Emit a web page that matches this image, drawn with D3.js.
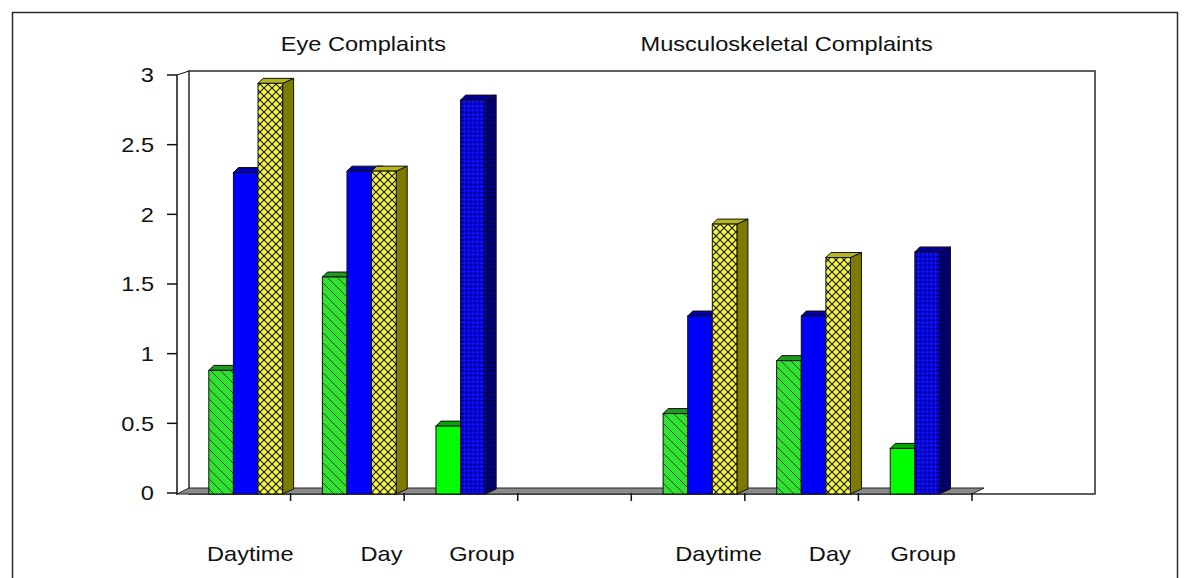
<!DOCTYPE html>
<html>
<head>
<meta charset="utf-8">
<script src="https://cdn.jsdelivr.net/npm/d3@7"></script>
<style>
  body { margin: 0; background: #fff; }
  svg { display: block; }
  text { font-family: "Liberation Sans", Arial, sans-serif; fill: #111; }
</style>
</head>
<body>
<svg id="chart" width="1190" height="578"></svg>
<script>
// ---- data ----
const panels = ["Eye Complaints", "Musculoskeletal Complaints"];
const categories = ["Daytime", "Day", "Group", "", "Daytime", "Day", "Group"];
const seriesKeys = ["green", "blue", "yellow"];
const greenValues  = [0.88, 1.55, 0.48, null, 0.57, 0.95, 0.32];
const blueValues   = [2.30, 2.31, 2.82, null, 1.27, 1.27, 1.73];
const yellowValues = [2.94, 2.31, null, null, 1.93, 1.69, null];
const yTicks = [0, 0.5, 1, 1.5, 2, 2.5, 3];
const yTickLabels = ["0", "0.5", "1", "1.5", "2", "2.5", "3"];

// ---- layout ----
const svg = d3.select("#chart");
const axisX = 177, floorRight = 972;
const depthX = 11, depthY = 5, topSlant = 5;
const wall = { x0: 189, y0: 71, x1: 1095, y1: 494 };
const textStretch = 1.18;      // the chart's lettering runs a little wide
const labelNudge = [30, 70, 45, 0, 44, 64, 32];

const y = d3.scaleLinear().domain([0, 3]).range([493, 75]);
const x = d3.scaleBand().domain(d3.range(categories.length)).range([axisX, floorRight]).padding(0);
const bw = x.bandwidth();
const xs = d3.scaleBand().domain(seriesKeys).range([bw * 0.28, bw * 0.93]).padding(0);

// place a text at (px, py) with the horizontal stretch applied
function placeText(sel, px, py) {
  sel.attr("x", 0).attr("y", 0)
     .attr("transform", (d, i) => `translate(${px(d, i)},${py(d, i)}) scale(${textStretch},1)`);
}

// ---- fill patterns ----
const defs = svg.append("defs");
const hatch = defs.append("pattern").attr("id", "hatchGreen")
  .attr("patternUnits", "userSpaceOnUse").attr("width", 10).attr("height", 10);
hatch.append("rect").attr("width", 10).attr("height", 10).attr("fill", "#2fe22f");
hatch.append("path").attr("d", "M0,0L10,10M-3,7L3,13M7,-3L13,3")
  .attr("stroke", "#1b4a1b").attr("stroke-width", 1);

const cross = defs.append("pattern").attr("id", "crossYellow")
  .attr("patternUnits", "userSpaceOnUse").attr("width", 8).attr("height", 8);
cross.append("rect").attr("width", 8).attr("height", 8).attr("fill", "#f6f63a");
cross.append("path").attr("d", "M0,0L8,8M0,8L8,0")
  .attr("stroke", "#1a1a1a").attr("stroke-width", 1.2);

const checker = defs.append("pattern").attr("id", "checkBlue")
  .attr("patternUnits", "userSpaceOnUse").attr("width", 6).attr("height", 6)
  .attr("patternTransform", "rotate(45)");
checker.append("rect").attr("width", 6).attr("height", 6).attr("fill", "#1010ff");
checker.append("rect").attr("width", 3).attr("height", 3).attr("fill", "#0000a8");
checker.append("rect").attr("x", 3).attr("y", 3).attr("width", 3).attr("height", 3).attr("fill", "#0000a8");

const checkerDark = defs.append("pattern").attr("id", "checkBlueDark")
  .attr("patternUnits", "userSpaceOnUse").attr("width", 6).attr("height", 6)
  .attr("patternTransform", "rotate(45)");
checkerDark.append("rect").attr("width", 6).attr("height", 6).attr("fill", "#00008a");
checkerDark.append("rect").attr("width", 3).attr("height", 3).attr("fill", "#00004e");
checkerDark.append("rect").attr("x", 3).attr("y", 3).attr("width", 3).attr("height", 3).attr("fill", "#00004e");

// face fills: regular categories and the "Group" category
const styles = {
  green:  { front: "url(#hatchGreen)", top: "#1e9a1e", side: "#117a11" },
  blue:   { front: "#0000ff", top: "#0000a8", side: "#00007c" },
  yellow: { front: "url(#crossYellow)", top: "#b5b51c", side: "#7d7a00" }
};
const groupStyles = {
  green:  { front: "#00ff00", top: "#00a800", side: "#008000" },
  blue:   { front: "url(#checkBlue)", top: "#0000a0", side: "url(#checkBlueDark)" },
  yellow: { front: "url(#crossYellow)", top: "#b5b51c", side: "#7d7a00" }
};

// ---- outer frame ----
svg.append("rect").attr("x", 12.5).attr("y", 12.5).attr("width", 1165).attr("height", 620)
  .attr("fill", "#fff").attr("stroke", "#2a2a2a").attr("stroke-width", 1.5);

// ---- back wall ----
svg.append("rect").attr("x", wall.x0).attr("y", wall.y0)
  .attr("width", wall.x1 - wall.x0).attr("height", wall.y1 - wall.y0)
  .attr("fill", "#fff").attr("stroke", "#2a2a2a").attr("stroke-width", 1.5);

// ---- floor ----
const y0 = y(0) + 1;
svg.append("polygon")
  .attr("points", [[axisX, y0], [floorRight, y0], [floorRight + depthX + 1, y0 - depthY - 1], [axisX + depthX + 1, y0 - depthY - 1]].join(" "))
  .attr("fill", "#8a8a8a").attr("stroke", "#222").attr("stroke-width", 1);

// ---- y axis ----
const yAxis = svg.append("g");
yAxis.append("line").attr("x1", axisX).attr("x2", axisX).attr("y1", y(3)).attr("y2", y0 + 1)
  .attr("stroke", "#111").attr("stroke-width", 1.5);
yAxis.append("line").attr("x1", axisX).attr("y1", y(3)).attr("x2", wall.x0).attr("y2", wall.y0)
  .attr("stroke", "#111").attr("stroke-width", 1);
yAxis.selectAll("line.tick").data(yTicks).join("line").attr("class", "tick")
  .attr("x1", axisX - 10).attr("x2", axisX).attr("y1", d => y(d)).attr("y2", d => y(d))
  .attr("stroke", "#111").attr("stroke-width", 1.5);
yAxis.selectAll("text").data(yTicks).join("text")
  .attr("dy", "0.36em").attr("text-anchor", "end").attr("font-size", 20)
  .text((d, i) => yTickLabels[i])
  .call(placeText, () => 154, d => y(d));

// ---- x ticks ----
const boundaries = d3.range(1, categories.length + 1).map(i => i < categories.length ? x(i) : floorRight);
svg.append("g").selectAll("line").data(boundaries).join("line")
  .attr("x1", d => d).attr("x2", d => d).attr("y1", y0 - 1).attr("y2", y0 + 7)
  .attr("stroke", "#111").attr("stroke-width", 1.5);

// ---- bars ----
const valuesBySeries = { green: greenValues, blue: blueValues, yellow: yellowValues };
const bars = [];
categories.forEach((c, i) => {
  seriesKeys.forEach(k => {
    const v = valuesBySeries[k][i];
    if (v != null) bars.push({ cat: i, key: k, value: v });
  });
});

const barG = svg.append("g").selectAll("g").data(bars).join("g");
barG.each(function (d) {
  const g = d3.select(this);
  const st = (categories[d.cat] === "Group" ? groupStyles : styles)[d.key];
  const x0 = x(d.cat) + xs(d.key);
  const x1 = x0 + xs.bandwidth();
  const yt = y(d.value);
  g.append("polygon")
    .attr("points", [[x1, yt], [x1 + depthX, yt - depthY], [x1 + depthX, y0 - depthY], [x1, y0]].join(" "))
    .attr("fill", st.side).attr("stroke", "#111").attr("stroke-width", 1);
  g.append("polygon")
    .attr("points", [[x0, yt], [x1, yt], [x1 + depthX, yt - depthY], [x0 + topSlant, yt - depthY]].join(" "))
    .attr("fill", st.top).attr("stroke", "#111").attr("stroke-width", 1);
  g.append("rect")
    .attr("x", x0).attr("y", yt).attr("width", x1 - x0).attr("height", y0 - yt)
    .attr("fill", st.front).attr("stroke", "#111").attr("stroke-width", 1);
});

// ---- category labels ----
svg.append("g").selectAll("text").data(categories).join("text")
  .attr("text-anchor", "start").attr("font-size", 20)
  .text(d => d)
  .call(placeText, (d, i) => x(i) + labelNudge[i], () => 561);

// ---- panel titles ----
const titleX = [x(1) + bw / 2 + 16, x(5) + bw / 2 - 15];
svg.append("g").selectAll("text").data(panels).join("text")
  .attr("text-anchor", "middle").attr("font-size", 20)
  .text(d => d)
  .call(placeText, (d, i) => titleX[i], () => 51);
</script>
</body>
</html>
